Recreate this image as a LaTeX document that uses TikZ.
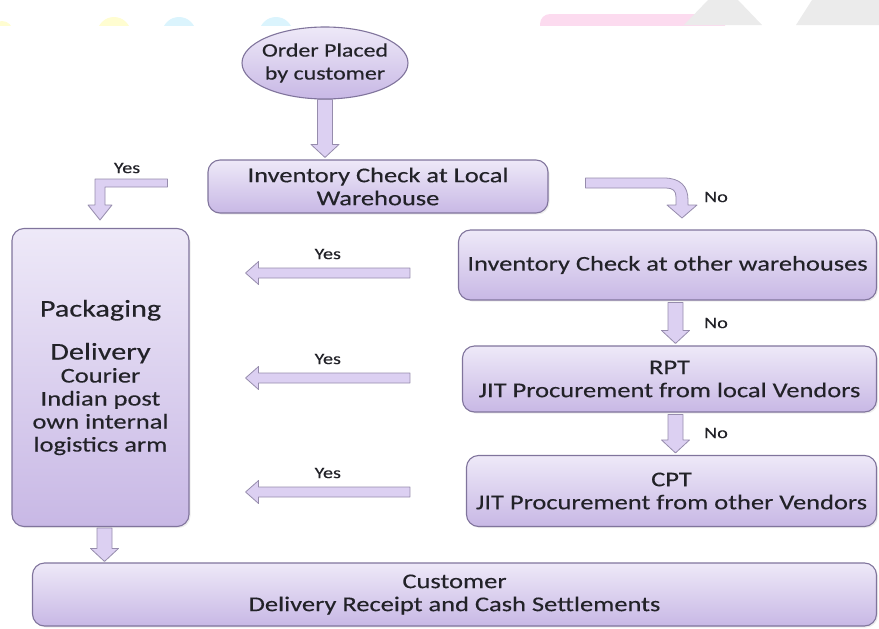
\documentclass[tikz,border=0pt]{standalone}
\usepackage{fontspec}
\setmainfont{Carlito}[FakeStretch=1.26, FakeBold=0.3]
\usepackage{tikz}
\usetikzlibrary{positioning,shapes.geometric,calc,shadows}
\definecolor{boxtop}{RGB}{238,233,248}
\definecolor{boxbot}{RGB}{200,184,229}
\definecolor{boxedge}{RGB}{128,116,156}
\definecolor{arrowfill}{RGB}{220,208,242}
\definecolor{arrowedge}{RGB}{150,140,172}
\definecolor{inktext}{RGB}{34,34,40}
\newcommand{\boxfont}{\fontsize{21}{23}\selectfont}
\newcommand{\bigfont}{\fontsize{24}{27}\selectfont}
% block arrow pointing down, from #1 to #2 (x taken from #1)
\newcommand{\vblock}[2]{\draw[blockarrow] let \p1=#1, \p2=#2 in
  (\x1-7.5pt,\y1) -- (\x1+7.5pt,\y1) -- (\x1+7.5pt,\y2+13pt) -- (\x1+14pt,\y2+13pt)
  -- (\x1,\y2) -- (\x1-14pt,\y2+13pt) -- (\x1-7.5pt,\y2+13pt) -- cycle;}
% block arrow pointing left, from #1 to #2 (y taken from #1)
\newcommand{\hblock}[2]{\draw[blockarrow] let \p1=#1, \p2=#2 in
  (\x1,\y1+5pt) -- (\x2+13pt,\y1+5pt) -- (\x2+13pt,\y1+11.5pt) -- (\x2,\y1)
  -- (\x2+13pt,\y1-11.5pt) -- (\x2+13pt,\y1-5pt) -- (\x1,\y1-5pt) -- cycle;}

\begin{document}
\begin{tikzpicture}[x=1pt,y=-1pt]
        \tikzset{
          stage/.style={rectangle, rounded corners=12pt, draw=boxedge, line width=1.1pt,
                        top color=boxtop, bottom color=boxbot, align=center,
                        inner sep=0pt, text=inktext, font=\boxfont,
                        drop shadow={shadow xshift=1.5pt, shadow yshift=-1.5pt, opacity=0.15}},
          ordernode/.style={ellipse, draw=boxedge, line width=1.1pt,
                        top color=boxtop, bottom color=boxbot, align=center,
                        inner xsep=-16pt, inner ysep=-4pt, text=inktext,
                        font=\fontsize{19}{23}\selectfont},
          blockarrow/.style={draw=arrowedge, fill=arrowfill, line width=0.8pt, line join=round},
          lbl/.style={text=inktext, font=\fontsize{16}{18}\selectfont}
        }
        \useasboundingbox (0,0) rectangle (879,629);
        % faint strip along the top edge
        \begin{scope}
          \clip (0,0) rectangle (879,25);
          \fill[yellow!18] (2,32) circle (11);
          \fill[yellow!18] (114,34) circle (17);
          \fill[cyan!14] (179,34) circle (17);
          \fill[cyan!14] (276,34) circle (17);
          \fill[magenta!14, rounded corners=10] (540,14) rectangle (725,45);
          \fill[black!8] (684,25) -- (708,0) -- (738,0) -- (762,25) -- cycle;
          \fill[black!8] (796,25) -- (812,0) -- (879,0) -- (879,25) -- cycle;
        \end{scope}
        % Stages
        \node[ordernode, minimum width=166, minimum height=72] (order) at (325,63)
          {Order Placed\\by customer};
        \node[stage, minimum width=340, minimum height=53] (local) at (378,186.5)
          {Inventory Check at Local\\Warehouse};
        \node[stage, minimum width=177, minimum height=298] (pack) at (100.5,377.5)
          {{\bigfont Packaging}\\[20pt]{\bigfont Delivery}\\Courier\\Indian post\\own internal\\logistics arm};
        \node[stage, minimum width=418, minimum height=70] (other) at (667.5,265)
          {Inventory Check at other warehouses};
        \node[stage, minimum width=414, minimum height=66] (rpt) at (669.5,379)
          {RPT\\JIT Procurement from local Vendors};
        \node[stage, minimum width=410, minimum height=71] (cpt) at (671.5,491)
          {CPT\\JIT Procurement from other Vendors};
        \node[stage, minimum width=844, minimum height=63] (cust) at (454.5,594.5)
          {Customer\\Delivery Receipt and Cash Settlements};
        % Vertical flow
        \vblock{(order.south)}{($(local.north)+(0,-2)$)}
        \vblock{($(other.south)+(8,2)$)}{($(rpt.north)+(0,-2)$)}
        \vblock{($(rpt.south)+(6,2)$)}{($(cpt.north)+(0,-2)$)}
        \vblock{($(pack.south)+(4,1)$)}{($(cust.north)+(0,-1)$)}
        \node[lbl] (no2) at (716,323) {No};
        \node[lbl] (no3) at (716,433) {No};
        % Yes: back to packaging
        \foreach \b/\dy in {other/8, rpt/-1, cpt/1} {
          \coordinate (\b-from) at ($(other.west |- \b.west)+(-48,\dy)$);
          \coordinate (\b-to) at ($(pack.east |- \b-from)+(56,0)$);
          \hblock{(\b-from)}{(\b-to)}
          \node[lbl] at ($(\b-from)!0.5!(\b-to)+(0,-19)$) {Yes};
        }
        % Bent arrows out of the local check
        \draw[blockarrow] ($(local.west)+(-40,-7.5)$) -- (95,179) -- (95,205) -- (88,205)
          -- (100,220) -- (112,205) -- (105,205) -- (105,187) -- ($(local.west)+(-40,0.5)$) -- cycle;
        \node[lbl] (yes1) at (127,168) {Yes};
        \draw[blockarrow] ($(local.east)+(37,-8.5)$) -- (664,178)
          .. controls (680,178) and (688,186) .. (688,200) -- (688,205) -- (697,205)
          -- (682,218) -- (667,205) -- (676,205) -- (676,197)
          .. controls (676,191) and (673,188) .. (666,188) -- ($(local.east)+(37,1.5)$) -- cycle;
        \node[lbl] (no1) at (716,197) {No};
\end{tikzpicture}
\end{document}
